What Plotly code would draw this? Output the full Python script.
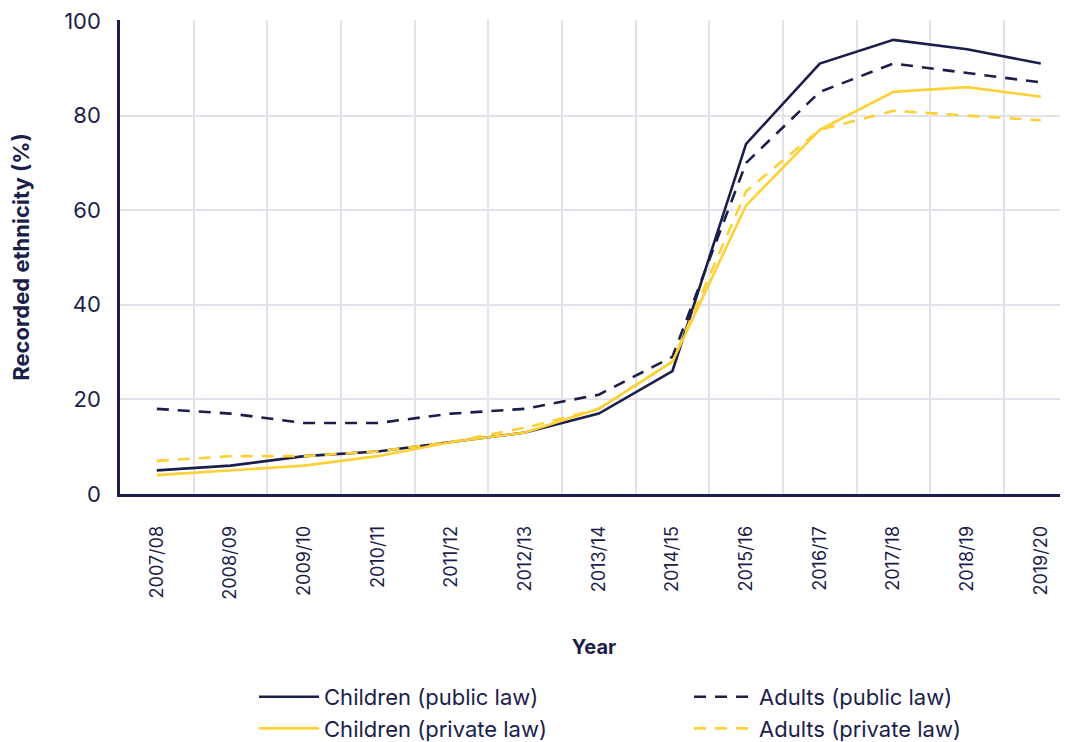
import plotly.graph_objects as go

years = ["2007/08", "2008/09", "2009/10", "2010/11", "2011/12", "2012/13", "2013/14",
         "2014/15", "2015/16", "2016/17", "2017/18", "2018/19", "2019/20"]
children_public = [5, 6, 8, 9, 11, 13, 17, 26, 74, 91, 96, 94, 91]
adults_public = [18, 17, 15, 15, 17, 18, 21, 29, 70, 85, 91, 89, 87]
children_private = [4, 5, 6, 8, 11, 13, 18, 28, 61, 77, 85, 86, 84]
adults_private = [7, 8, 8, 9, 11, 14, 18, 28, 64, 77, 81, 80, 79]

NAVY = "#1B1E4B"
YELLOW = "#FDD136"
GRID = "#E3E2EA"
FONT = "Inter"

fig = go.Figure()
series = [
    ("Children (public law)", children_public, NAVY, "solid"),
    ("Adults (public law)", adults_public, NAVY, "12px,9px"),
    ("Children (private law)", children_private, YELLOW, "solid"),
    ("Adults (private law)", adults_private, YELLOW, "12px,9px"),
]
for name, vals, color, dash in series:
    fig.add_trace(go.Scatter(x=years, y=vals, name=name, mode="lines",
                             line=dict(color=color, width=2.6, dash=dash)))

fig.update_layout(
    width=1068, height=742,
    margin=dict(l=112, r=8, t=12, b=256, autoexpand=False),
    paper_bgcolor="white", plot_bgcolor="white",
    font=dict(family=FONT, color=NAVY, size=19),
    showlegend=True,
    legend=dict(orientation="h", x=0.1414, xanchor="left", y=-0.384, yanchor="top",
                entrywidth=360, entrywidthmode="pixels",
                font=dict(size=22, color=NAVY), tracegroupgap=0, itemwidth=60),
    xaxis=dict(
        type="category", range=[-0.5, 12.37],
        tickson="boundaries", showgrid=True, gridcolor=GRID, gridwidth=1.5,
        showline=True, linecolor=NAVY, linewidth=2.5,
        tickangle=-90, ticks="", tickfont=dict(size=18, color=NAVY),
        ticklabelstandoff=22,
        title=dict(text="<b>Year</b>", font=dict(size=20, color=NAVY), standoff=42),
        zeroline=False,
    ),
    yaxis=dict(
        range=[0, 100.2], tickvals=[0, 20, 40, 60, 80, 100],
        showgrid=True, gridcolor=GRID, gridwidth=1.5,
        showline=True, linecolor=NAVY, linewidth=2.5, ticks="",
        tickfont=dict(size=22, color=NAVY), ticklabelstandoff=12,
        ticklabeloverflow="allow",
        title=dict(text="<b>Recorded ethnicity (%)</b>", font=dict(size=22, color=NAVY), standoff=34),
        zeroline=False,
    ),
)

fig.write_html("out.html")
